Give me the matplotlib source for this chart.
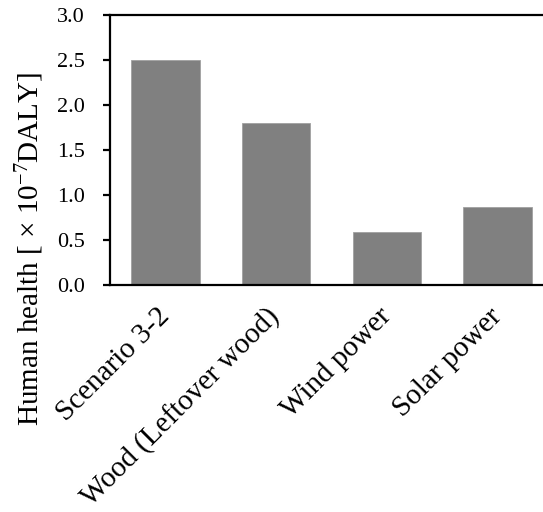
import matplotlib
matplotlib.use("Agg")
from matplotlib import pyplot as plt

# values
categories = ['Scenario 3-2', 'Wood (Leftover wood)', 'Wind power', 'Solar power']
values = [2.5, 1.8, 0.59, 0.87]
y_ticks = [0.0, 0.5, 1.0, 1.5, 2.0, 2.5, 3.0]

plt.rcParams['font.family'] = ['Liberation Serif', 'DejaVu Serif']
plt.rcParams['mathtext.fontset'] = 'custom'
plt.rcParams['mathtext.rm'] = 'Liberation Serif'
plt.rcParams['mathtext.default'] = 'regular'

W, H = 543, 512
fig = plt.figure(figsize=(W / 100, H / 100), dpi=100)
# axes runs off the right edge like the cropped original
ax = fig.add_axes([110 / W, (H - 285) / H, 443 / W, 270 / H])

x = range(len(categories))
ax.bar(x, values, width=0.62, color='#808080', edgecolor='#a0a0a0', linewidth=0.6, zorder=2)

ax.set_xlim(-0.5, 3.5)
ax.set_ylim(0, 3.0)
ax.set_yticks(y_ticks)
ax.set_yticklabels(['%.1f' % t for t in y_ticks], fontsize=16)
ax.set_xticks(list(x))
ax.set_xticklabels(categories, fontsize=21, rotation=45, ha='right',
                   rotation_mode='anchor', va='center')

for side in ['left', 'top', 'bottom']:
    ax.spines[side].set_linewidth(1.6)
    ax.spines[side].set_color('black')
ax.spines['right'].set_visible(False)

ax.tick_params(axis='y', direction='out', length=5, width=1.6, pad=13)
ax.tick_params(axis='x', length=0, pad=20)

fig.text(30 / W, 1 - 249 / H, r'Human health [ $\times$ 10$^{-7}$DALY]',
         rotation=90, ha='center', va='center', fontsize=21)

fig.savefig('out.png', dpi=100)
